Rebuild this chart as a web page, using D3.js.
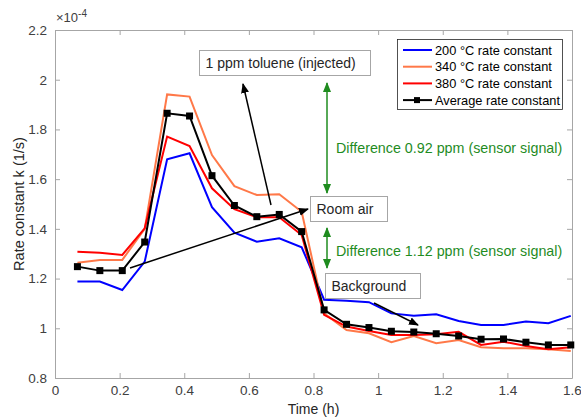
<!DOCTYPE html>
<html>
<head>
<meta charset="utf-8">
<script src="https://cdn.jsdelivr.net/npm/d3@7"></script>
<style>
  html, body { margin: 0; padding: 0; background: #fff; }
  svg { display: block; font-family: "Liberation Sans", Arial, sans-serif; }
</style>
</head>
<body>
<svg id="chart" width="581" height="419"></svg>
<script>
// Sampling times (h): one measurement every ~250 s
const times = d3.range(1, 24).map(i => +(i * 0.0694).toFixed(4));

// Rate constants k (×10^-4 1/s)
const k200 = [1.188, 1.188, 1.154, 1.268, 1.680, 1.704, 1.487, 1.385, 1.348, 1.362, 1.326, 1.115,
              1.111, 1.105, 1.060, 1.050, 1.056, 1.029, 1.013, 1.013, 1.027, 1.020, 1.050];
const k340 = [1.264, 1.275, 1.275, 1.400, 1.941, 1.932, 1.697, 1.572, 1.536, 1.539, 1.469, 1.060,
              0.993, 0.980, 0.944, 0.969, 0.940, 0.953, 0.924, 0.920, 0.920, 0.916, 0.909];
const k380 = [1.308, 1.304, 1.295, 1.402, 1.771, 1.733, 1.563, 1.479, 1.447, 1.447, 1.375, 1.054,
              1.007, 0.989, 0.973, 0.973, 0.976, 0.986, 0.933, 0.946, 0.929, 0.916, 0.924];
const kAvg = [1.248, 1.232, 1.232, 1.347, 1.865, 1.854, 1.614, 1.494, 1.449, 1.458, 1.389, 1.074,
              1.016, 1.003, 0.988, 0.985, 0.978, 0.969, 0.956, 0.957, 0.944, 0.933, 0.933];

const seriesNames = ["200 °C rate constant", "340 °C rate constant", "380 °C rate constant", "Average rate constant"];
const seriesColors = ["#0000ff", "#ff7848", "#ff0000", "#000000"];

const xTicks = [0, 0.2, 0.4, 0.6, 0.8, 1, 1.2, 1.4, 1.6];
const yTicks = [0.8, 1, 1.2, 1.4, 1.6, 1.8, 2, 2.2];

const svg = d3.select("#chart");
const m = { left: 55, right: 572, top: 30, bottom: 378 };

const x = d3.scaleLinear().domain([0, 1.6]).range([m.left, m.right]);
const y = d3.scaleLinear().domain([0.8, 2.2]).range([m.bottom, m.top]);

const axisColor = "#a6a6a6";
const labelColor = "#404040";

// Axes box with inward ticks on all four sides
function styleAxis(g) {
  g.select(".domain").attr("stroke", axisColor).attr("stroke-width", 1);
  g.selectAll(".tick line").attr("stroke", axisColor);
  g.selectAll(".tick text").attr("fill", labelColor).attr("font-size", 13.5)
    .attr("font-family", "Liberation Sans, Arial, sans-serif");
}

const fmt = d => d3.format("")(+d.toFixed(1));

svg.append("g").attr("transform", `translate(0,${m.bottom})`)
  .call(d3.axisBottom(x).tickValues(xTicks).tickFormat(fmt).tickSizeInner(-5).tickSizeOuter(0).tickPadding(7))
  .call(styleAxis);
svg.append("g").attr("transform", `translate(0,${m.top})`)
  .call(d3.axisTop(x).tickValues(xTicks).tickFormat("").tickSizeInner(-5).tickSizeOuter(0))
  .call(styleAxis);
svg.append("g").attr("transform", `translate(${m.left},0)`)
  .call(d3.axisLeft(y).tickValues(yTicks).tickFormat(fmt).tickSizeInner(-5).tickSizeOuter(0).tickPadding(8))
  .call(styleAxis);
svg.append("g").attr("transform", `translate(${m.right},0)`)
  .call(d3.axisRight(y).tickValues(yTicks).tickFormat("").tickSizeInner(-5).tickSizeOuter(0))
  .call(styleAxis);

// Exponent multiplier
const ex = svg.append("text").attr("x", m.left + 1).attr("y", m.top - 8)
  .attr("fill", labelColor).attr("font-size", 13);
ex.append("tspan").text("×10");
ex.append("tspan").attr("dy", -5).attr("font-size", 10).text("-4");

// Axis titles
svg.append("text").attr("x", (m.left + m.right) / 2).attr("y", 414)
  .attr("text-anchor", "middle").attr("fill", "#262626").attr("font-size", 14).text("Time (h)");
svg.append("text").attr("transform", `translate(24,${(m.top + m.bottom) / 2}) rotate(-90)`)
  .attr("text-anchor", "middle").attr("fill", "#262626").attr("font-size", 14.5)
  .text("Rate constant k (1/s)");

// Series lines
const line = d3.line().x((d, i) => x(times[i])).y(d => y(d));
const allSeries = [k200, k340, k380, kAvg];
allSeries.forEach((s, j) => {
  svg.append("path").datum(s).attr("d", line).attr("fill", "none")
    .attr("stroke", seriesColors[j]).attr("stroke-width", 2)
    .attr("stroke-linejoin", "miter");
});
// Square markers on the average
svg.append("g").selectAll("rect").data(kAvg).join("rect")
  .attr("x", (d, i) => x(times[i]) - 3.5).attr("y", d => y(d) - 3.5)
  .attr("width", 7).attr("height", 7).attr("fill", "#000");

// Arrowhead definitions
const defs = svg.append("defs");
function marker(id, color) {
  defs.append("marker").attr("id", id).attr("viewBox", "0 0 10 10")
    .attr("refX", 9).attr("refY", 5).attr("markerWidth", 10).attr("markerHeight", 10)
    .attr("markerUnits", "userSpaceOnUse").attr("orient", "auto-start-reverse")
    .append("path").attr("d", "M0,1 L10,5 L0,9 Z").attr("fill", color);
}
marker("ahBlack", "#000");
marker("ahGreen", "#1f8c1f");

// Annotation arrows
function arrow(x1, y1, x2, y2, id, color, both) {
  const p = svg.append("line").attr("x1", x1).attr("y1", y1).attr("x2", x2).attr("y2", y2)
    .attr("stroke", color).attr("stroke-width", 1.5).attr("marker-end", `url(#${id})`);
  if (both) p.attr("marker-start", `url(#${id})`);
}
arrow(271, 205, 243, 84, "ahBlack", "#000");
arrow(130, 268, 308, 209, "ahBlack", "#000");
arrow(374, 303, 418, 325, "ahBlack", "#000");
arrow(327, 83, 327, 193, "ahGreen", "#1f8c1f", true);
arrow(327, 228, 327, 268, "ahGreen", "#1f8c1f", true);

// Text boxes
function textBox(x0, y0, w, h, label) {
  svg.append("rect").attr("x", x0).attr("y", y0).attr("width", w).attr("height", h)
    .attr("fill", "#fff").attr("stroke", "#a6a6a6").attr("stroke-width", 1);
  svg.append("text").attr("x", x0 + 6).attr("y", y0 + h / 2 + 5)
    .attr("fill", "#262626").attr("font-size", 14).text(label);
}
textBox(199.5, 50.5, 171, 25, "1 ppm toluene (injected)");
textBox(310.5, 196.5, 77, 25, "Room air");
textBox(325.5, 273.5, 95, 25, "Background");

// Green difference labels
svg.append("text").attr("x", 336).attr("y", 153).attr("fill", "#1f8c1f").attr("font-size", 14.3)
  .text("Difference 0.92 ppm (sensor signal)");
svg.append("text").attr("x", 336).attr("y", 256).attr("fill", "#1f8c1f").attr("font-size", 14.3)
  .text("Difference 1.12 ppm (sensor signal)");

// Legend
const lg = svg.append("g");
lg.append("rect").attr("x", 397.5).attr("y", 39.5).attr("width", 165).attr("height", 70)
  .attr("fill", "#fff").attr("stroke", "#262626").attr("stroke-width", 0.8);
seriesNames.forEach((name, j) => {
  const cy = 50 + j * 16.7;
  lg.append("line").attr("x1", 403).attr("x2", 432).attr("y1", cy).attr("y2", cy)
    .attr("stroke", seriesColors[j]).attr("stroke-width", 2);
  if (j === 3) lg.append("rect").attr("x", 414).attr("y", cy - 3).attr("width", 6).attr("height", 6).attr("fill", "#000");
  lg.append("text").attr("x", 435).attr("y", cy + 4.5).attr("fill", "#000").attr("font-size", 12.8).text(name);
});
</script>
</body>
</html>
